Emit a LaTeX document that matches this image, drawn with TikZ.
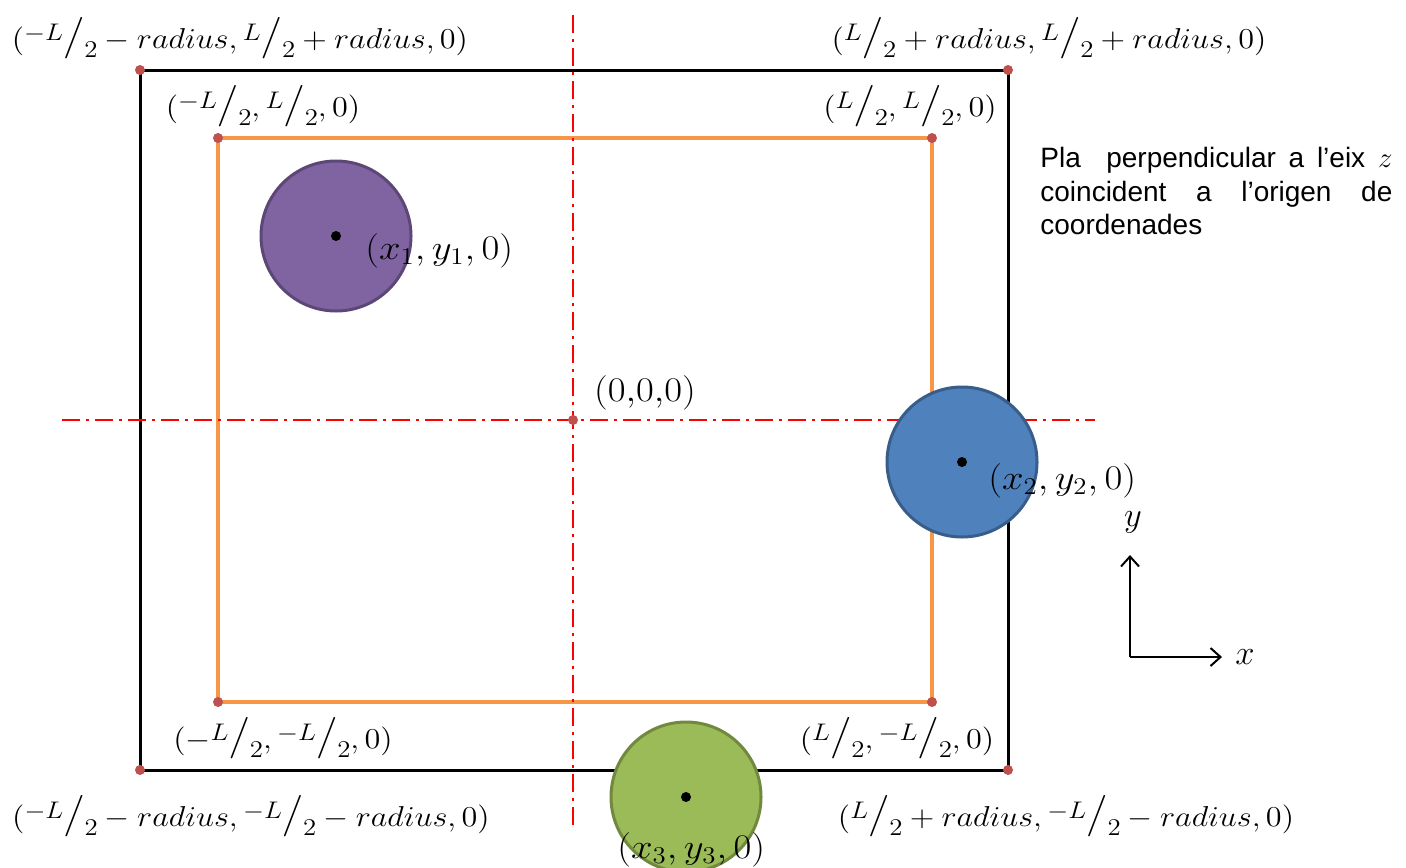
\documentclass[tikz,border=0pt]{standalone}
\usepackage{fontspec}
\setsansfont{Liberation Sans}
\usepackage{amsmath}
\usepackage{graphicx}
\usetikzlibrary{arrows.meta}
\definecolor{orangeln}{HTML}{F79646}
\definecolor{dotred}{HTML}{C0504D}
\definecolor{purplefill}{HTML}{8064A2}
\definecolor{purpleedge}{HTML}{5C4776}
\definecolor{bluefill}{HTML}{4F81BD}
\definecolor{blueedge}{HTML}{385D8A}
\definecolor{greenfill}{HTML}{9BBB59}
\definecolor{greenedge}{HTML}{71893F}
\newcommand{\half}[1]{\raisebox{0.6ex}{\large$#1$}\mbox{\huge$/$}\raisebox{-0.75ex}{\large$2$}}
\newcommand{\wide}[1]{\scalebox{1.12}[1]{$#1$}}

\begin{document}
\begin{tikzpicture}[x=5pt, y=-5pt, font=\Large,
  frame/.style={line width=1.5pt},
  innerframe/.style={line width=1.6pt, draw=orangeln},
  axisln/.style={red, line width=1pt, dash pattern=on 9pt off 3pt on 1.5pt off 3pt},
  corner/.style={circle, fill=dotred, inner sep=0pt, minimum size=5pt},
  coordlbl/.style={inner sep=0pt},
  ball/.style={circle, minimum size=75pt, line width=1.5pt, inner sep=0pt},
  centre/.style={circle, fill=black, inner sep=0pt, minimum size=5pt},
  arr/.style={-{Straight Barb[length=5pt, width=9pt]}, line width=1pt}]

  \useasboundingbox (0,0) rectangle (140.6,86.7);

  % Corners
  \coordinate (A) at (14.0,7.0);
  \coordinate (B) at (100.8,7.0);
  \coordinate (C) at (100.8,77.0);
  \coordinate (D) at (14.0,77.0);
  \coordinate (a) at (21.8,13.8);
  \coordinate (b) at (93.2,13.8);
  \coordinate (c) at (93.2,70.2);
  \coordinate (d) at (21.8,70.2);
  \coordinate (O) at (57.3,42.0);

  % Frames
  \draw[frame] (A) -- (B) -- (C) -- (D) -- cycle;
  \draw[innerframe] (a) -- (b) -- (c) -- (d) -- cycle;

  % Symmetry axes
  \coordinate (vtop) at (57.3,1.5);
  \coordinate (vbot) at (57.3,83.0);
  \coordinate (hleft) at (6.2,42.0);
  \coordinate (hright) at (109.5,42.0);
  \draw[axisln] (vtop) -- (vbot);
  \draw[axisln] (hleft) -- (hright);

  \foreach \c in {A,B,C,D,a,b,c,d,O}
    \node[corner] (dot\c) at (\c) {};

  % ---- Corner labels ----
  \node[coordlbl] (lblA) at (24.0,3.8) {\wide{(\half{-L} - radius, \half{L} + radius, 0)}};
  \node[coordlbl] (lblB) at (104.9,3.8) {\wide{(\half{L} + radius, \half{L} + radius, 0)}};
  \node[coordlbl] (lbla) at (26.3,10.6) {\wide{(\half{-L}, \half{L}, 0)}};
  \node[coordlbl] (lblb) at (91.0,10.6) {\wide{(\half{L}, \half{L}, 0)}};
  \node[coordlbl] (lbld) at (28.3,73.8) {\wide{(-\half{L}, \half{-L}, 0)}};
  \node[coordlbl] (lblc) at (89.7,73.8) {\wide{(\half{L}, \half{-L}, 0)}};
  \node[coordlbl] (lblD) at (25.1,81.6) {\wide{(\half{-L} - radius, \half{-L} - radius, 0)}};
  \node[coordlbl] (lblC) at (106.6,81.6) {\wide{(\half{L} + radius, \half{-L} - radius, 0)}};
  \node[font=\LARGE] (lblO) at (64.5,39.3) {\wide{(0{,}0{,}0)}};

  % ---- Bodies ----
  \node[ball, fill=purplefill, draw=purpleedge] (ball1) at (33.6,23.6) {};
  \node[ball, fill=bluefill, draw=blueedge] (ball2) at (96.2,46.2) {};
  \node[ball, fill=greenfill, draw=greenedge] (ball3) at (68.6,79.7) {};
  \node[centre] (p1) at (ball1.center) {};
  \node[centre] (p2) at (ball2.center) {};
  \node[centre] (p3) at (ball3.center) {};
  \node[font=\LARGE, anchor=west, inner sep=0pt] (lbl1) at (36.5,25.1) {\wide{(x_1, y_1, 0)}};
  \node[font=\LARGE, anchor=west, inner sep=0pt] (lbl2) at (98.8,48.1) {\wide{(x_2, y_2, 0)}};
  \node[font=\LARGE, anchor=west, inner sep=0pt] (lbl3) at (61.7,85.0) {\wide{(x_3, y_3, 0)}};

  % ---- Reference axes ----
  \coordinate (ax0) at (113.0,65.7);
  \coordinate (axy) at (113.0,55.5);
  \coordinate (axx) at (122.2,65.7);
  \draw[arr] (ax0) -- (axy);
  \draw[arr] (ax0) -- (axx);
  \node[font=\LARGE] (lbly) at (113.3,52.2) {$y$};
  \node[font=\LARGE] (lblx) at (124.5,65.7) {$x$};

  % Description
  \node[anchor=north west, inner sep=0pt, text width=176pt, align=justify,
    font=\sffamily\fontsize{14}{16.75}\selectfont] (desc) at (104.0,14.7)
    {Pla\ \ perpendicular a l’eix $z$\linebreak coincident a l’origen de\linebreak coordenades};

\end{tikzpicture}
\end{document}
